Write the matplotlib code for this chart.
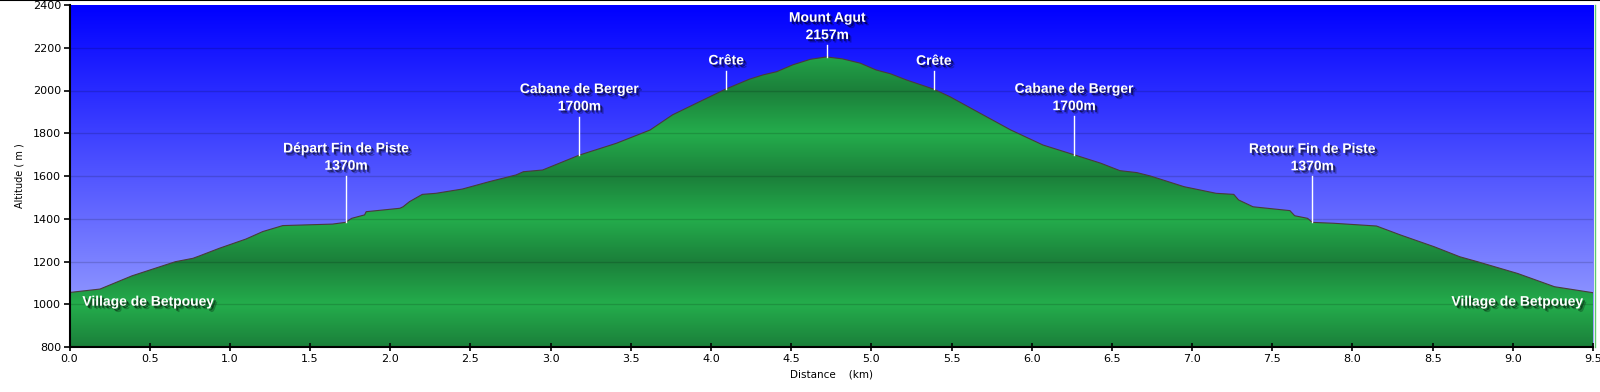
import matplotlib
matplotlib.use("Agg")
import matplotlib.pyplot as plt
import matplotlib.patheffects as pe
from matplotlib.colors import LinearSegmentedColormap
import numpy as np

# profile (km, m)
distance = [0.00, 0.19, 0.39, 0.66, 0.77, 0.81, 0.935, 1.10, 1.205, 1.33,
            1.64, 1.72, 1.76, 1.84, 1.85, 2.06, 2.08, 2.12, 2.20, 2.285,
            2.45, 2.62, 2.785, 2.83, 2.95, 3.18, 3.41, 3.62, 3.76, 3.93,
            4.09, 4.24, 4.325, 4.41, 4.51, 4.62, 4.72, 4.82, 4.93, 5.03,
            5.12, 5.22, 5.39, 5.49, 5.66, 5.87, 6.07, 6.27, 6.43, 6.55,
            6.655, 6.74, 6.95, 7.15, 7.26, 7.29, 7.38, 7.61, 7.64, 7.72,
            7.75, 7.88, 8.15, 8.30, 8.51, 8.67, 8.78, 9.03, 9.26, 9.50]
altitude = [1055, 1071, 1133, 1199, 1215, 1226, 1262, 1305, 1340, 1368,
            1375, 1383, 1402, 1418, 1433, 1449, 1456, 1480, 1514, 1519,
            1539, 1574, 1605, 1620, 1628, 1698, 1753, 1815, 1886, 1948,
            2006, 2053, 2073, 2088, 2120, 2146, 2157, 2148, 2128, 2096,
            2078, 2049, 2006, 1971, 1901, 1815, 1745, 1698, 1660, 1625,
            1616, 1600, 1550, 1519, 1514, 1488, 1456, 1438, 1414, 1402,
            1383, 1379, 1366, 1324, 1269, 1222, 1199, 1144, 1082, 1054]

# waypoints
wp_names = ["Départ Fin de Piste\n1370m", "Cabane de Berger\n1700m", "Crête",
            "Mount Agut\n2157m", "Crête", "Cabane de Berger\n1700m",
            "Retour Fin de Piste\n1370m"]
wp_dist = [1.725, 3.18, 4.095, 4.725, 5.39, 6.265, 7.75]
wp_stem = [215, 180, 85, 55, 85, 180, 215]  # stem length in m

x_ticks = np.arange(0, 9.51, 0.5)
y_ticks = np.arange(800, 2401, 200)

XMIN, XMAX, YMIN, YMAX = 0, 9.5, 800, 2400

fig = plt.figure(figsize=(16, 3.92), dpi=100)
ax = fig.add_axes([69.5 / 1600, 1 - 347 / 392, (1593 - 69.5) / 1600, 342 / 392])
ax.set_xlim(XMIN, XMAX)
ax.set_ylim(YMIN, YMAX)

# sky gradient
sky = LinearSegmentedColormap.from_list("sky", ["#a4acff", "#0000ff"])
yy = np.linspace(0, 1, 256).reshape(-1, 1)
ax.imshow(yy, cmap=sky, aspect="auto", origin="lower",
          extent=[XMIN, XMAX, YMIN, YMAX], zorder=0)

# green ground with banded shading, clipped to profile
grass = LinearSegmentedColormap.from_list("grass", ["#1b7f3a", "#24ad4c"])
alts = np.linspace(YMIN, YMAX, 800)
frac = ((alts - 800) / 400.0) % 1.0
shade = 1 - np.abs(2 * frac - 1)
ground = ax.imshow(shade.reshape(-1, 1), cmap=grass, aspect="auto", origin="lower",
                   extent=[XMIN, XMAX, YMIN, YMAX], zorder=1, vmin=0, vmax=1)
poly = ax.fill_between(distance, altitude, YMIN, color="none", zorder=1)
clip = poly.get_paths()[0]
ground.set_clip_path(clip, transform=ax.transData)
ax.plot(distance, altitude, color="#4a3a3a", lw=0.8, zorder=3)

# grid
for v in y_ticks[1:-1]:
    ax.axhline(v, color="black", alpha=0.15, lw=1.0, zorder=2)

shadow = [pe.SimplePatchShadow(offset=(2.5, -2.5), shadow_rgbFace="black", alpha=0.25),
          pe.SimplePatchShadow(offset=(1.5, -1.5), shadow_rgbFace="black", alpha=0.5),
          pe.Normal()]

# waypoint labels
for name, d, stem in zip(wp_names, wp_dist, wp_stem):
    h = np.interp(d, distance, altitude)
    ax.plot([d, d], [h, h + stem], color="white", lw=1.0, zorder=4)
    ax.text(d, h + stem + 15, name, ha="center", va="bottom", color="white",
            fontsize=10, fontweight="bold", family="Liberation Sans",
            linespacing=1.3, zorder=5, path_effects=shadow)

ax.text(0.08, 1012, "Village de Betpouey", ha="left", va="center", color="white",
        fontsize=10, fontweight="bold", family="Liberation Sans", zorder=5,
        path_effects=shadow)
ax.text(9.44, 1012, "Village de Betpouey", ha="right", va="center", color="white",
        fontsize=10, fontweight="bold", family="Liberation Sans", zorder=5,
        path_effects=shadow)

# axes styling
ax.set_xticks(x_ticks)
ax.set_xticklabels(["%.1f" % v for v in x_ticks])
ax.set_yticks(y_ticks)
ax.tick_params(labelsize=8, length=4, width=1.2, colors="black", pad=2)
ax.tick_params(axis="x", direction="inout", length=6)
for s in ["top", "right"]:
    ax.spines[s].set_visible(False)
for s in ["left", "bottom"]:
    ax.spines[s].set_linewidth(1.5)
    ax.spines[s].set_zorder(6)
ax.set_xlabel("Distance    (km)", fontsize=7.5, labelpad=4)
ax.set_ylabel("Altitude ( m )", fontsize=7, labelpad=6)

# frame lines of the original picture
fig.add_artist(plt.Line2D([0, 1], [0.999, 0.999], color="black", lw=1.5))
fig.add_artist(plt.Line2D([1594.5 / 1600] * 2, [1 - 347 / 392, 1 - 5 / 392],
                          color="#5fc96f", lw=1.0))

fig.savefig("out.png", dpi=100)
